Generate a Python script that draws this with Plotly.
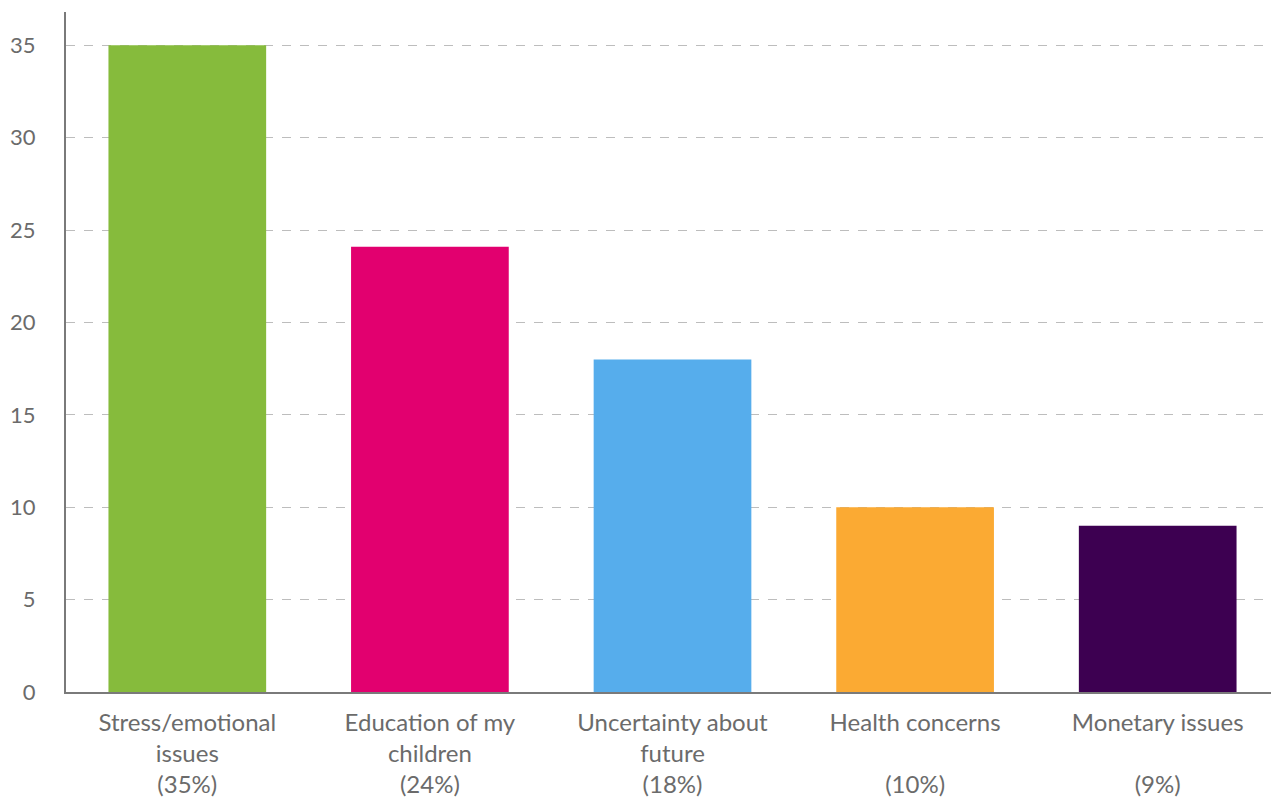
import plotly.graph_objects as go

categories = ["Stress/emotional<br>issues", "Education of my<br>children", "Uncertainty about<br>future",
              "Health concerns<br> ", "Monetary issues<br> "]
percent_labels = ["(35%)", "(24%)", "(18%)", "(10%)", "(9%)"]
values = [35, 24.1, 18, 10, 9]
colors = ["#86bb3c", "#e2006f", "#56adec", "#fbaa33", "#3d0051"]

tick_text = [f"{c}<br>{p}" for c, p in zip(categories, percent_labels)]
x_keys = list(range(len(values)))

fig = go.Figure(go.Bar(
    x=x_keys, y=values,
    marker=dict(color=colors, line=dict(width=0)),
    hoverinfo="skip",
))

fig.update_layout(
    width=1271, height=794,
    margin=dict(l=58, r=0, t=4, b=110),
    plot_bgcolor="white", paper_bgcolor="white",
    font=dict(family="Lato, 'Open Sans', sans-serif", color="#6b6b6b", size=22),
    bargap=0.35,
    showlegend=False,
)
fig.update_xaxes(
    tickmode="array", tickvals=x_keys, ticktext=tick_text,
    tickfont=dict(size=24, color="#6b6b6b"),
    showline=True, linecolor="#7a7a7a", linewidth=2,
    ticks="outside", ticklen=8, tickcolor="rgba(0,0,0,0)",
    range=[-0.5, 4.5], showgrid=False, automargin=False,
)
fig.update_yaxes(
    range=[0, 36.8], tickmode="array", tickvals=[0, 5, 10, 15, 20, 25, 30, 35],
    tickfont=dict(size=22, color="#6b6b6b"),
    showline=True, linecolor="#7a7a7a", linewidth=2,
    showgrid=True, gridcolor="#bdbdbd", griddash="dash", gridwidth=1,
    zeroline=False, automargin=False,
    ticks="outside", ticklen=24, tickcolor="rgba(0,0,0,0)",
)

fig.write_html("out.html")
